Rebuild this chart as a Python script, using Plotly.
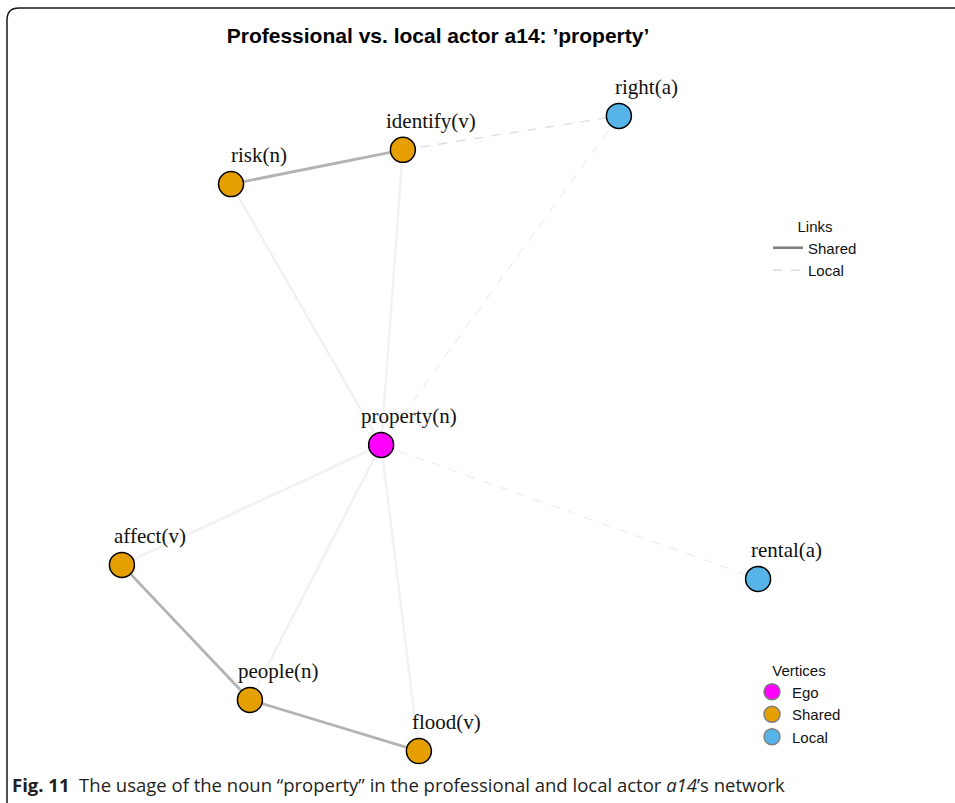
import plotly.graph_objects as go

# ---- data ----
node_names = ["property(n)", "right(a)", "identify(v)", "risk(n)",
              "affect(v)", "people(n)", "flood(v)", "rental(a)"]
node_types = ["Ego", "Local", "Shared", "Shared", "Shared", "Shared", "Shared", "Local"]
node_x = [-0.184, 0.559, -0.116, -0.653, -0.994, -0.594, -0.066, 0.994]
node_y = [0.016, 1.044, 0.938, 0.831, -0.359, -0.781, -0.941, -0.403]

edge_src = ["risk(n)", "affect(v)", "people(n)", "identify(v)",
            "property(n)", "property(n)",
            "property(n)", "property(n)", "property(n)", "property(n)", "property(n)"]
edge_dst = ["identify(v)", "people(n)", "flood(v)", "right(a)",
            "right(a)", "rental(a)",
            "risk(n)", "identify(v)", "affect(v)", "people(n)", "flood(v)"]
edge_kind = ["Shared", "Shared", "Shared", "Local",
             "EgoLocal", "EgoLocal",
             "EgoShared", "EgoShared", "EgoShared", "EgoShared", "EgoShared"]

vertex_legend = ["Ego", "Shared", "Local"]
link_legend = ["Shared", "Local"]

# ---- styles ----
W, H = 955, 803
vcolors = {"Ego": "#FF00FF", "Shared": "#E69F00", "Local": "#56B4E9"}
estyle = {
    "EgoShared": dict(color="#f2f2f2", width=2.6, dash="solid"),
    "EgoLocal": dict(color="#eeeeee", width=1.3, dash="dash"),
    "Shared": dict(color="#b3b3b3", width=2.8, dash="solid"),
    "Local": dict(color="#dcdcdc", width=1.3, dash="dash"),
}
pos = {n: (x, y) for n, x, y in zip(node_names, node_x, node_y)}

fig = go.Figure()

# edges
for kind in ["EgoShared", "EgoLocal", "Shared", "Local"]:
    xs, ys = [], []
    for s, d, k in zip(edge_src, edge_dst, edge_kind):
        if k == kind:
            xs += [pos[s][0], pos[d][0], None]
            ys += [pos[s][1], pos[d][1], None]
    fig.add_trace(go.Scatter(x=xs, y=ys, mode="lines", line=estyle[kind],
                             hoverinfo="skip", showlegend=False))

# nodes
fig.add_trace(go.Scatter(
    x=node_x, y=node_y, mode="markers",
    marker=dict(size=25, color=[vcolors[t] for t in node_types],
                line=dict(color="black", width=1.5)),
    text=node_names, hoverinfo="text", showlegend=False))

# node labels
for n, x, y in zip(node_names, node_x, node_y):
    fig.add_annotation(x=x, y=y, text=n, showarrow=False, xshift=28, yshift=29,
                       font=dict(family="Liberation Serif", size=21, color="#111111"))

# legend: links
for lk in link_legend:
    st = estyle[lk]
    fig.add_trace(go.Scatter(
        x=[None], y=[None], mode="lines", name=lk, legend="legend",
        line=dict(color="#7f7f7f" if lk == "Shared" else "#dddddd",
                  width=2.6 if lk == "Shared" else 1.3, dash=st["dash"])))

# legend: vertices
for vt in vertex_legend:
    fig.add_trace(go.Scatter(
        x=[None], y=[None], mode="markers", name=vt, legend="legend2",
        marker=dict(size=18, color=vcolors[vt], line=dict(color="#7f7f7f", width=1.5))))

# border (rounded frame)
def px(x):
    return x / W

def py(y):
    return 1 - y / H

path = (f"M {px(7)},{py(H + 5)} L {px(7)},{py(20)} "
        f"Q {px(7)},{py(8)} {px(19)},{py(8)} L {px(W + 5)},{py(8)}")
fig.add_shape(type="path", path=path, xref="paper", yref="paper",
              line=dict(color="#1a1a1a", width=1.5))

# caption
fig.add_annotation(
    x=px(10), y=py(784), xref="paper", yref="paper", xanchor="left", yanchor="middle",
    showarrow=False,
    text="<b>Fig. 11</b>  The usage of the noun “property” in the professional and local actor <i>a14</i>’s network",
    font=dict(family="Open Sans", size=18.5, color="#231f20"))

legend_title_font = dict(family="Liberation Sans", size=15, color="#111111")
legend_item_font = dict(family="Liberation Sans", size=15, color="#111111")

fig.update_layout(
    width=W, height=H,
    margin=dict(l=0, r=0, t=0, b=0),
    paper_bgcolor="white", plot_bgcolor="white",
    title=dict(text="<b>Professional vs. local actor a14: ’property’</b>",
               x=px(438), xanchor="center", y=py(36), yanchor="middle",
               font=dict(family="Liberation Sans", size=21, color="black")),
    xaxis=dict(range=[(0 - 440) / 320, (W - 440) / 320], visible=False, fixedrange=True),
    yaxis=dict(range=[(450 - H) / 320, 450 / 320], visible=False, fixedrange=True),
    legend=dict(x=px(768), y=py(212), xanchor="left", yanchor="top",
                title=dict(text="Links", side="top center", font=legend_title_font),
                font=legend_item_font,
                bgcolor="rgba(0,0,0,0)", itemwidth=30),
    legend2=dict(x=px(752), y=py(656), xanchor="left", yanchor="top",
                 title=dict(text="Vertices", side="top center", font=legend_title_font),
                 font=legend_item_font,
                 bgcolor="rgba(0,0,0,0)", itemsizing="trace", itemwidth=30,
                 tracegroupgap=0),
    showlegend=True,
)

fig.write_html("out.html", config={"displayModeBar": False},
               post_script="document.body.style.margin='0';")
